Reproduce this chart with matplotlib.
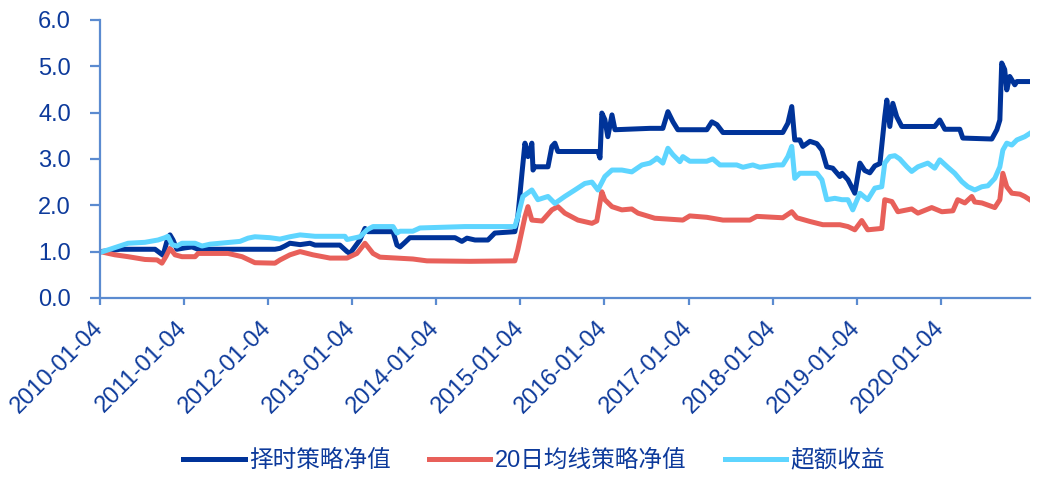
import numpy as np
import pandas as pd
import matplotlib
matplotlib.use("Agg")
import matplotlib.pyplot as plt

plt.rcParams['font.family'] = ['Liberation Sans', 'Noto Sans CJK SC', 'DejaVu Sans']

start = pd.Timestamp('2010-01-04')

# days since 2010-01-04
timing_days = [0, 43, 87, 174, 239, 274, 295, 304, 317, 334, 369, 400, 426, 521, 651, 760, 782, 803,
               825, 869, 912, 934, 1042, 1073, 1086, 1129, 1151, 1164, 1273, 1290, 1303, 1325, 1346,
               1542, 1572, 1594, 1629, 1685, 1715, 1802, 1815, 1833, 1846, 1859, 1876, 1881, 1889,
               1946, 1963, 1976, 1989, 2163, 2172, 2180, 2193, 2206, 2224, 2237, 2389, 2445, 2467,
               2489, 2510, 2636, 2658, 2680, 2706, 2966, 2988, 3005, 3018, 3040, 3053, 3084, 3114,
               3136, 3157, 3183, 3214, 3223, 3249, 3279, 3301, 3322, 3344, 3366, 3388, 3409, 3418,
               3431, 3444, 3461, 3483, 3626, 3648, 3670, 3735, 3748, 3874, 3896, 3909, 3917, 3930,
               3939, 3952, 3974, 3983, 4039]
timing_nav = [1.00, 1.02, 1.05, 1.05, 1.05, 0.92, 1.30, 1.36, 1.25, 1.05, 1.08, 1.10, 1.05, 1.05,
              1.05, 1.05, 1.07, 1.12, 1.18, 1.15, 1.18, 1.14, 1.14, 1.00, 0.96, 1.25, 1.50, 1.43,
              1.43, 1.14, 1.10, 1.20, 1.30, 1.30, 1.22, 1.29, 1.25, 1.25, 1.40, 1.43, 1.75, 2.69,
              3.34, 3.05, 3.34, 2.76, 2.83, 2.83, 3.27, 3.34, 3.16, 3.16, 3.02, 3.99, 3.85, 3.48,
              3.95, 3.63, 3.66, 3.66, 4.02, 3.80, 3.63, 3.63, 3.80, 3.74, 3.57, 3.57, 3.77, 4.13,
              3.41, 3.41, 3.27, 3.38, 3.33, 3.19, 2.83, 2.80, 2.62, 2.69, 2.55, 2.26, 2.91, 2.75,
              2.70, 2.85, 2.90, 3.91, 4.27, 3.70, 4.20, 3.91, 3.70, 3.70, 3.84, 3.64, 3.64, 3.45,
              3.43, 3.63, 3.84, 5.07, 4.93, 4.49, 4.78, 4.60, 4.67, 4.67]

ma20_days = [0, 65, 122, 195, 248, 269, 287, 304, 326, 356, 413, 426, 556, 617, 673, 760, 782, 825,
             869, 925, 999, 1073, 1116, 1151, 1186, 1216, 1359, 1420, 1607, 1802, 1815, 1846, 1859,
             1876, 1920, 1963, 1989, 2019, 2076, 2137, 2158, 2180, 2193, 2224, 2267, 2310, 2337,
             2410, 2532, 2562, 2636, 2706, 2823, 2853, 2966, 3005, 3027, 3084, 3140, 3214, 3249,
             3279, 3309, 3335, 3396, 3409, 3440, 3466, 3526, 3553, 3613, 3657, 3705, 3726, 3757,
             3787, 3800, 3831, 3887, 3909, 3922, 3939, 3961, 3996, 4017, 4039]
ma20_nav = [1.00, 0.93, 0.89, 0.83, 0.82, 0.75, 0.90, 1.07, 0.93, 0.89, 0.89, 0.96, 0.96, 0.89,
            0.76, 0.75, 0.82, 0.93, 1.00, 0.93, 0.86, 0.86, 0.96, 1.18, 0.96, 0.88, 0.84, 0.80,
            0.79, 0.80, 1.04, 1.75, 1.97, 1.68, 1.66, 1.90, 1.97, 1.83, 1.68, 1.61, 1.66, 2.29,
            2.12, 1.97, 1.90, 1.92, 1.83, 1.72, 1.68, 1.77, 1.74, 1.68, 1.68, 1.76, 1.73, 1.86,
            1.73, 1.65, 1.58, 1.58, 1.54, 1.47, 1.67, 1.47, 1.50, 2.12, 2.08, 1.86, 1.92, 1.83,
            1.95, 1.86, 1.88, 2.12, 2.05, 2.19, 2.07, 2.05, 1.95, 2.12, 2.69, 2.40, 2.26, 2.24,
            2.19, 2.12]

excess_days = [0, 43, 122, 195, 252, 282, 295, 313, 334, 356, 413, 443, 478, 608, 643, 673, 738,
               782, 825, 869, 934, 1064, 1073, 1129, 1160, 1186, 1273, 1290, 1303, 1359, 1390, 1585,
               1802, 1815, 1837, 1876, 1902, 1946, 1976, 2019, 2063, 2106, 2137, 2163, 2193, 2224,
               2267, 2310, 2354, 2389, 2410, 2419, 2445, 2467, 2489, 2519, 2532, 2562, 2636, 2662,
               2693, 2766, 2793, 2836, 2866, 2940, 2966, 2988, 3005, 3018, 3040, 3114, 3136, 3157,
               3192, 3223, 3249, 3270, 3301, 3335, 3366, 3396, 3409, 3431, 3453, 3474, 3505, 3526,
               3553, 3596, 3626, 3648, 3683, 3713, 3744, 3770, 3800, 3831, 3857, 3887, 3909, 3922,
               3939, 3961, 3983, 4017, 4039]
excess_nav = [0.98, 1.05, 1.18, 1.20, 1.25, 1.30, 1.33, 1.15, 1.12, 1.18, 1.18, 1.12, 1.16, 1.22,
              1.29, 1.32, 1.30, 1.27, 1.32, 1.36, 1.33, 1.33, 1.26, 1.32, 1.47, 1.54, 1.54, 1.40,
              1.44, 1.44, 1.51, 1.54, 1.54, 1.75, 2.19, 2.33, 2.12, 2.19, 2.04, 2.19, 2.33, 2.47,
              2.50, 2.33, 2.62, 2.76, 2.76, 2.72, 2.87, 2.91, 2.98, 3.02, 2.91, 3.23, 3.09, 2.94,
              3.05, 2.95, 2.95, 3.00, 2.87, 2.87, 2.82, 2.87, 2.82, 2.87, 2.87, 3.05, 3.27, 2.58,
              2.69, 2.69, 2.55, 2.12, 2.15, 2.12, 2.12, 1.90, 2.26, 2.12, 2.37, 2.40, 2.91, 3.05,
              3.07, 3.00, 2.83, 2.73, 2.83, 2.91, 2.80, 2.98, 2.82, 2.69, 2.51, 2.40, 2.33, 2.40,
              2.42, 2.58, 2.83, 3.19, 3.34, 3.30, 3.41, 3.48, 3.55]

labels = ['择时策略净值', '20日均线策略净值', '超额收益']
colors = ['#003399', '#E8605A', '#5ED5FF']
tick_dates = pd.to_datetime(['%d-01-04' % y for y in range(2010, 2021)])


def to_dates(days):
    return start + pd.to_timedelta(np.array(days), unit='D')


fig = plt.figure(figsize=(10.44, 4.86), dpi=100)
ax = fig.add_axes([0.0958, 0.387, 0.8908, 0.572])

ax.plot(to_dates(timing_days), timing_nav, color=colors[0], lw=3.6, label=labels[0])
ax.plot(to_dates(ma20_days), ma20_nav, color=colors[1], lw=3.6, label=labels[1])
ax.plot(to_dates(excess_days), excess_nav, color=colors[2], lw=3.6, label=labels[2])

axis_col = '#5B8BD0'
text_col = '#0D3A9B'
ax.set_ylim(0, 6)
ax.set_yticks(np.arange(0, 7, 1))
ax.set_yticklabels(['%.1f' % v for v in range(7)])
ax.set_xlim(start, start + pd.Timedelta(days=4040))
ax.set_xticks(tick_dates)
ax.set_xticklabels([d.strftime('%Y-%m-%d') for d in tick_dates], rotation=45,
                   ha='right', va='center', rotation_mode='anchor')

for s in ['top', 'right']:
    ax.spines[s].set_visible(False)
for s in ['left', 'bottom']:
    ax.spines[s].set_color(axis_col)
    ax.spines[s].set_linewidth(1.6)
ax.tick_params(axis='both', colors=axis_col, labelcolor=text_col, labelsize=17,
               width=1.6)
ax.tick_params(axis='y', length=7, pad=14)
ax.tick_params(axis='x', length=5, pad=14)

leg = ax.legend(loc='upper center', bbox_to_anchor=(0.467, -0.47), ncol=3, frameon=False,
                fontsize=17, handlelength=2.6, handletextpad=0.2, columnspacing=1.6)
for t in leg.get_texts():
    t.set_color(text_col)

fig.savefig('out.png', dpi=100)
